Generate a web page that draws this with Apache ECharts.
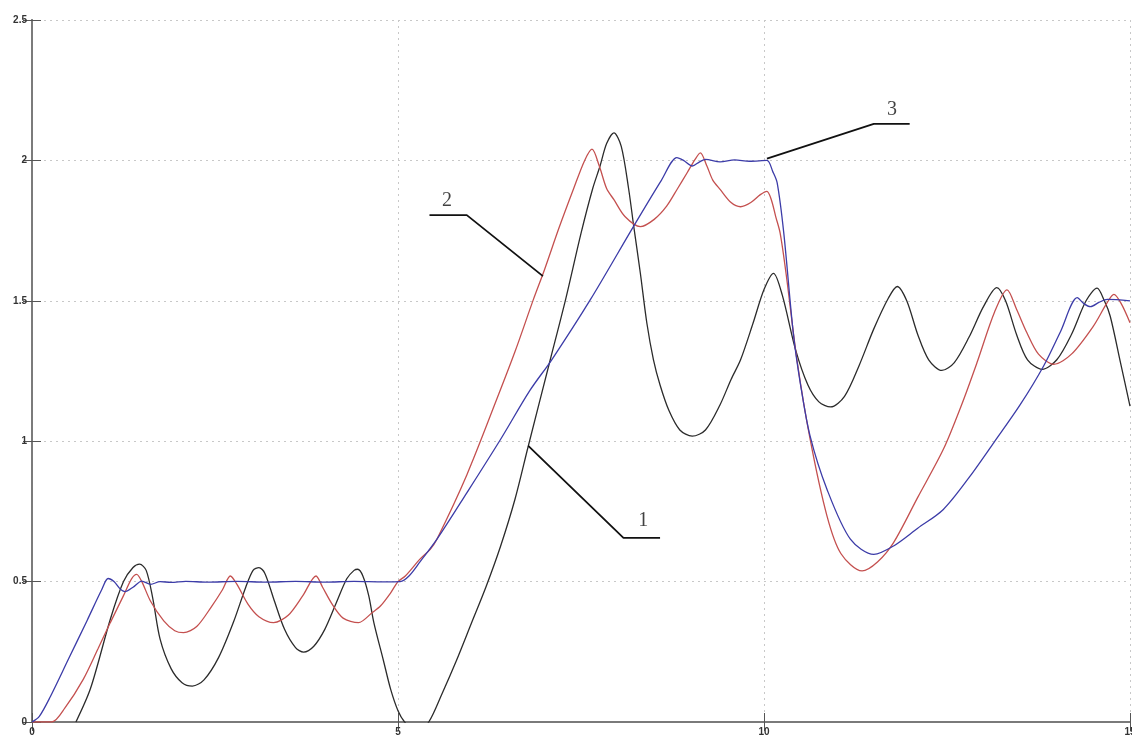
<!DOCTYPE html>
<html>
<head>
<meta charset="utf-8">
<title>chart</title>
<script src="https://cdn.jsdelivr.net/npm/echarts@6/dist/echarts.min.js"></script>
<style>
  html, body { margin: 0; padding: 0; background: #fff; }
  #main { width: 1132px; height: 738px; }
</style>
</head>
<body>
<div id="main"></div>
<script>
// axis ticks
var xTicks = [0, 5, 10, 15];
var yTicks = [0, 0.5, 1, 1.5, 2, 2.5];

// curve 1 (black)
var curve1 = [
  [0.6, 0], [0.8, 0.12], [1.07, 0.366], [1.25, 0.5], [1.38, 0.55], [1.47, 0.562], [1.56, 0.54],
  [1.65, 0.44], [1.75, 0.295], [1.9, 0.19], [2.05, 0.14], [2.19, 0.128], [2.35, 0.15], [2.55, 0.23],
  [2.75, 0.354], [2.92, 0.48], [3.02, 0.54], [3.1, 0.55], [3.18, 0.53], [3.3, 0.44], [3.45, 0.33],
  [3.6, 0.265], [3.71, 0.249], [3.85, 0.27], [4.0, 0.33], [4.15, 0.42], [4.3, 0.51], [4.4, 0.54],
  [4.45, 0.544], [4.52, 0.52], [4.6, 0.45], [4.67, 0.354], [4.8, 0.22], [4.9, 0.116], [5.0, 0.04],
  [5.09, 0], [5.25, -0.04], [5.42, 0], [5.6, 0.1], [5.8, 0.22], [6.0, 0.35], [6.2, 0.48],
  [6.4, 0.625], [6.6, 0.795], [6.78, 0.983], [7.08, 1.29], [7.29, 1.505], [7.5, 1.74], [7.66, 1.9],
  [7.76, 1.98], [7.85, 2.06], [7.95, 2.098], [8.05, 2.05], [8.15, 1.9], [8.22, 1.766], [8.31, 1.6],
  [8.4, 1.42], [8.49, 1.29], [8.58, 1.2], [8.7, 1.11], [8.85, 1.04], [9.02, 1.018], [9.2, 1.04],
  [9.4, 1.13], [9.55, 1.22], [9.68, 1.29], [9.85, 1.42], [10.0, 1.54], [10.13, 1.598], [10.25, 1.52],
  [10.43, 1.327], [10.6, 1.2], [10.75, 1.14], [10.91, 1.122], [11.1, 1.16], [11.3, 1.27], [11.5, 1.4],
  [11.7, 1.51], [11.82, 1.551], [11.95, 1.5], [12.1, 1.38], [12.25, 1.29], [12.43, 1.252],
  [12.6, 1.28], [12.8, 1.37], [13.0, 1.48], [13.18, 1.547], [13.3, 1.5], [13.45, 1.38], [13.6, 1.29],
  [13.8, 1.256], [14.0, 1.29], [14.2, 1.38], [14.4, 1.5], [14.55, 1.545], [14.65, 1.5],
  [14.73, 1.445], [14.87, 1.28], [15.0, 1.125]
];

// curve 2 (red)
var curve2 = [
  [0, 0], [0.27, 0], [0.45, 0.05], [0.7, 0.152], [0.9, 0.26], [1.07, 0.354], [1.25, 0.45],
  [1.36, 0.51], [1.43, 0.526], [1.5, 0.5], [1.62, 0.43], [1.8, 0.36], [1.95, 0.325], [2.07, 0.318],
  [2.25, 0.34], [2.45, 0.41], [2.6, 0.47], [2.71, 0.52], [2.8, 0.49], [2.95, 0.42], [3.1, 0.375],
  [3.3, 0.354], [3.5, 0.38], [3.7, 0.45], [3.88, 0.52], [3.97, 0.48], [4.1, 0.42], [4.25, 0.37],
  [4.46, 0.354], [4.65, 0.39], [4.76, 0.413], [4.9, 0.46], [5.0, 0.5], [5.1, 0.52], [5.3, 0.58],
  [5.44, 0.615], [5.53, 0.65], [5.94, 0.88], [6.35, 1.15], [6.6, 1.32], [6.85, 1.505],
  [7.0, 1.61], [7.2, 1.76], [7.4, 1.9], [7.55, 2.0], [7.65, 2.04], [7.75, 1.98], [7.85, 1.9],
  [7.95, 1.86], [8.1, 1.8], [8.31, 1.764], [8.5, 1.79], [8.67, 1.837], [8.82, 1.9], [8.95, 1.956],
  [9.05, 2.0], [9.13, 2.027], [9.22, 1.98], [9.3, 1.93], [9.4, 1.897], [9.55, 1.85], [9.68, 1.835],
  [9.82, 1.85], [9.95, 1.878], [10.04, 1.89], [10.1, 1.86], [10.16, 1.8], [10.22, 1.742],
  [10.3, 1.6], [10.45, 1.29], [10.63, 1.007], [10.86, 0.734], [11.05, 0.6], [11.34, 0.538],
  [11.55, 0.57], [11.77, 0.639], [12.1, 0.8], [12.45, 0.971], [12.7, 1.13], [12.91, 1.28],
  [13.15, 1.46], [13.32, 1.539], [13.45, 1.47], [13.59, 1.387], [13.75, 1.31], [13.96, 1.274],
  [14.2, 1.31], [14.5, 1.41], [14.68, 1.49], [14.78, 1.523], [14.88, 1.49], [15.0, 1.422]
];

// curve 3 (blue)
var curve3 = [
  [0, 0], [0.1, 0.02], [0.25, 0.09], [0.5, 0.225], [0.75, 0.36], [0.95, 0.47], [1.04, 0.511],
  [1.12, 0.5], [1.2, 0.475], [1.27, 0.464], [1.38, 0.48], [1.5, 0.502], [1.62, 0.49], [1.75, 0.5],
  [1.9, 0.497], [2.1, 0.501], [2.4, 0.498], [2.8, 0.501], [3.2, 0.498], [3.6, 0.501], [4.0, 0.498],
  [4.4, 0.501], [4.8, 0.499], [5.03, 0.5], [5.15, 0.52], [5.3, 0.57], [5.53, 0.65], [5.94, 0.816],
  [6.4, 1.006], [6.8, 1.18], [7.1, 1.29], [7.63, 1.505], [8.22, 1.766], [8.6, 1.93], [8.81, 2.01],
  [8.9, 2.0], [9.02, 1.98], [9.12, 1.995], [9.2, 2.004], [9.4, 1.995], [9.6, 2.002], [9.8, 1.997],
  [10.04, 2.0], [10.12, 1.96], [10.18, 1.92], [10.27, 1.742], [10.4, 1.386], [10.5, 1.2],
  [10.63, 1.018], [10.86, 0.829], [11.18, 0.651], [11.5, 0.597], [11.77, 0.627], [12.1, 0.69],
  [12.45, 0.757], [12.8, 0.87], [13.14, 0.995], [13.5, 1.13], [13.82, 1.268], [14.05, 1.39],
  [14.28, 1.511], [14.37, 1.49], [14.46, 1.479], [14.58, 1.495], [14.69, 1.505], [15.0, 1.5]
];

// leader lines and their numbers
var leader1 = [[6.78, 0.983], [8.08, 0.656], [8.58, 0.656]];
var leader2 = [[6.98, 1.588], [5.94, 1.805], [5.43, 1.805]];
var leader3 = [[10.04, 2.006], [11.5, 2.13], [11.99, 2.13]];
var leaderText = [
  { name: '1', value: [8.35, 0.716] },
  { name: '2', value: [5.67, 1.855] },
  { name: '3', value: [11.75, 2.18] }
];

var myChart = echarts.init(document.getElementById('main'));

var axisColor = '#7a7a7a';

function leaderSeries(pts) {
  return {
    type: 'line',
    data: pts,
    symbol: 'none',
    silent: true,
    clip: false,
    lineStyle: { color: '#111', width: 1.8 },
    z: 5
  };
}

function curveSeries(name, pts, color) {
  return {
    name: name,
    type: 'line',
    data: pts,
    symbol: 'none',
    smooth: 0.3,
    clip: true,
    lineStyle: { color: color, width: 1.3 }
  };
}

var labelStyle = {
  color: '#333', fontSize: 10, fontWeight: 'bold', margin: 5, fontFamily: 'Liberation Sans'
};

var option = {
  animation: false,
  backgroundColor: '#fff',
  grid: { left: 32, right: 2, top: 20, bottom: 16, outerBoundsMode: 'none' },
  xAxis: [
    {
      type: 'value', min: 0, max: 15, interval: 5,
      axisLine: { lineStyle: { color: axisColor, width: 1.8 } },
      axisTick: { inside: true, length: 9, lineStyle: { color: '#555' } },
      axisLabel: Object.assign({
        formatter: function (v) { return xTicks.indexOf(v) >= 0 ? String(v) : ''; }
      }, labelStyle),
      splitLine: { show: true, lineStyle: { color: '#c8c8c8', type: [2, 4] } }
    },
    {
      type: 'value', position: 'top', min: 0, max: 15, interval: 5,
      axisLine: { show: true, lineStyle: { color: axisColor, width: 1.8 } },
      axisTick: { inside: true, length: 9, lineStyle: { color: '#555' } },
      axisLabel: { show: false },
      splitLine: { show: false }
    }
  ],
  yAxis: [
    {
      type: 'value', min: 0, max: 2.5, interval: 0.5,
      axisLine: { show: true, lineStyle: { color: axisColor, width: 1.8 } },
      axisTick: { show: true, inside: true, length: 9, lineStyle: { color: '#555' } },
      axisLabel: Object.assign({
        formatter: function (v) { return yTicks.indexOf(v) >= 0 ? String(v) : ''; }
      }, labelStyle),
      splitLine: { show: true, lineStyle: { color: '#c8c8c8', type: [2, 4] } }
    },
    {
      type: 'value', position: 'right', min: 0, max: 2.5, interval: 0.5,
      axisLine: { show: true, lineStyle: { color: axisColor, width: 1.8 } },
      axisTick: { show: true, inside: true, length: 9, lineStyle: { color: '#555' } },
      axisLabel: { show: false },
      splitLine: { show: false }
    }
  ],
  series: [
    curveSeries('1', curve1, '#2b2b2b'),
    curveSeries('2', curve2, '#c4504f'),
    curveSeries('3', curve3, '#3c3ca8'),
    leaderSeries(leader1),
    leaderSeries(leader2),
    leaderSeries(leader3),
    {
      type: 'scatter',
      data: leaderText,
      symbolSize: 0,
      silent: true,
      z: 6,
      label: {
        show: true,
        position: 'inside',
        formatter: function (p) { return p.name; },
        color: '#111',
        fontSize: 20,
        fontFamily: 'Liberation Serif'
      }
    }
  ]
};

myChart.setOption(option);
</script>
</body>
</html>
